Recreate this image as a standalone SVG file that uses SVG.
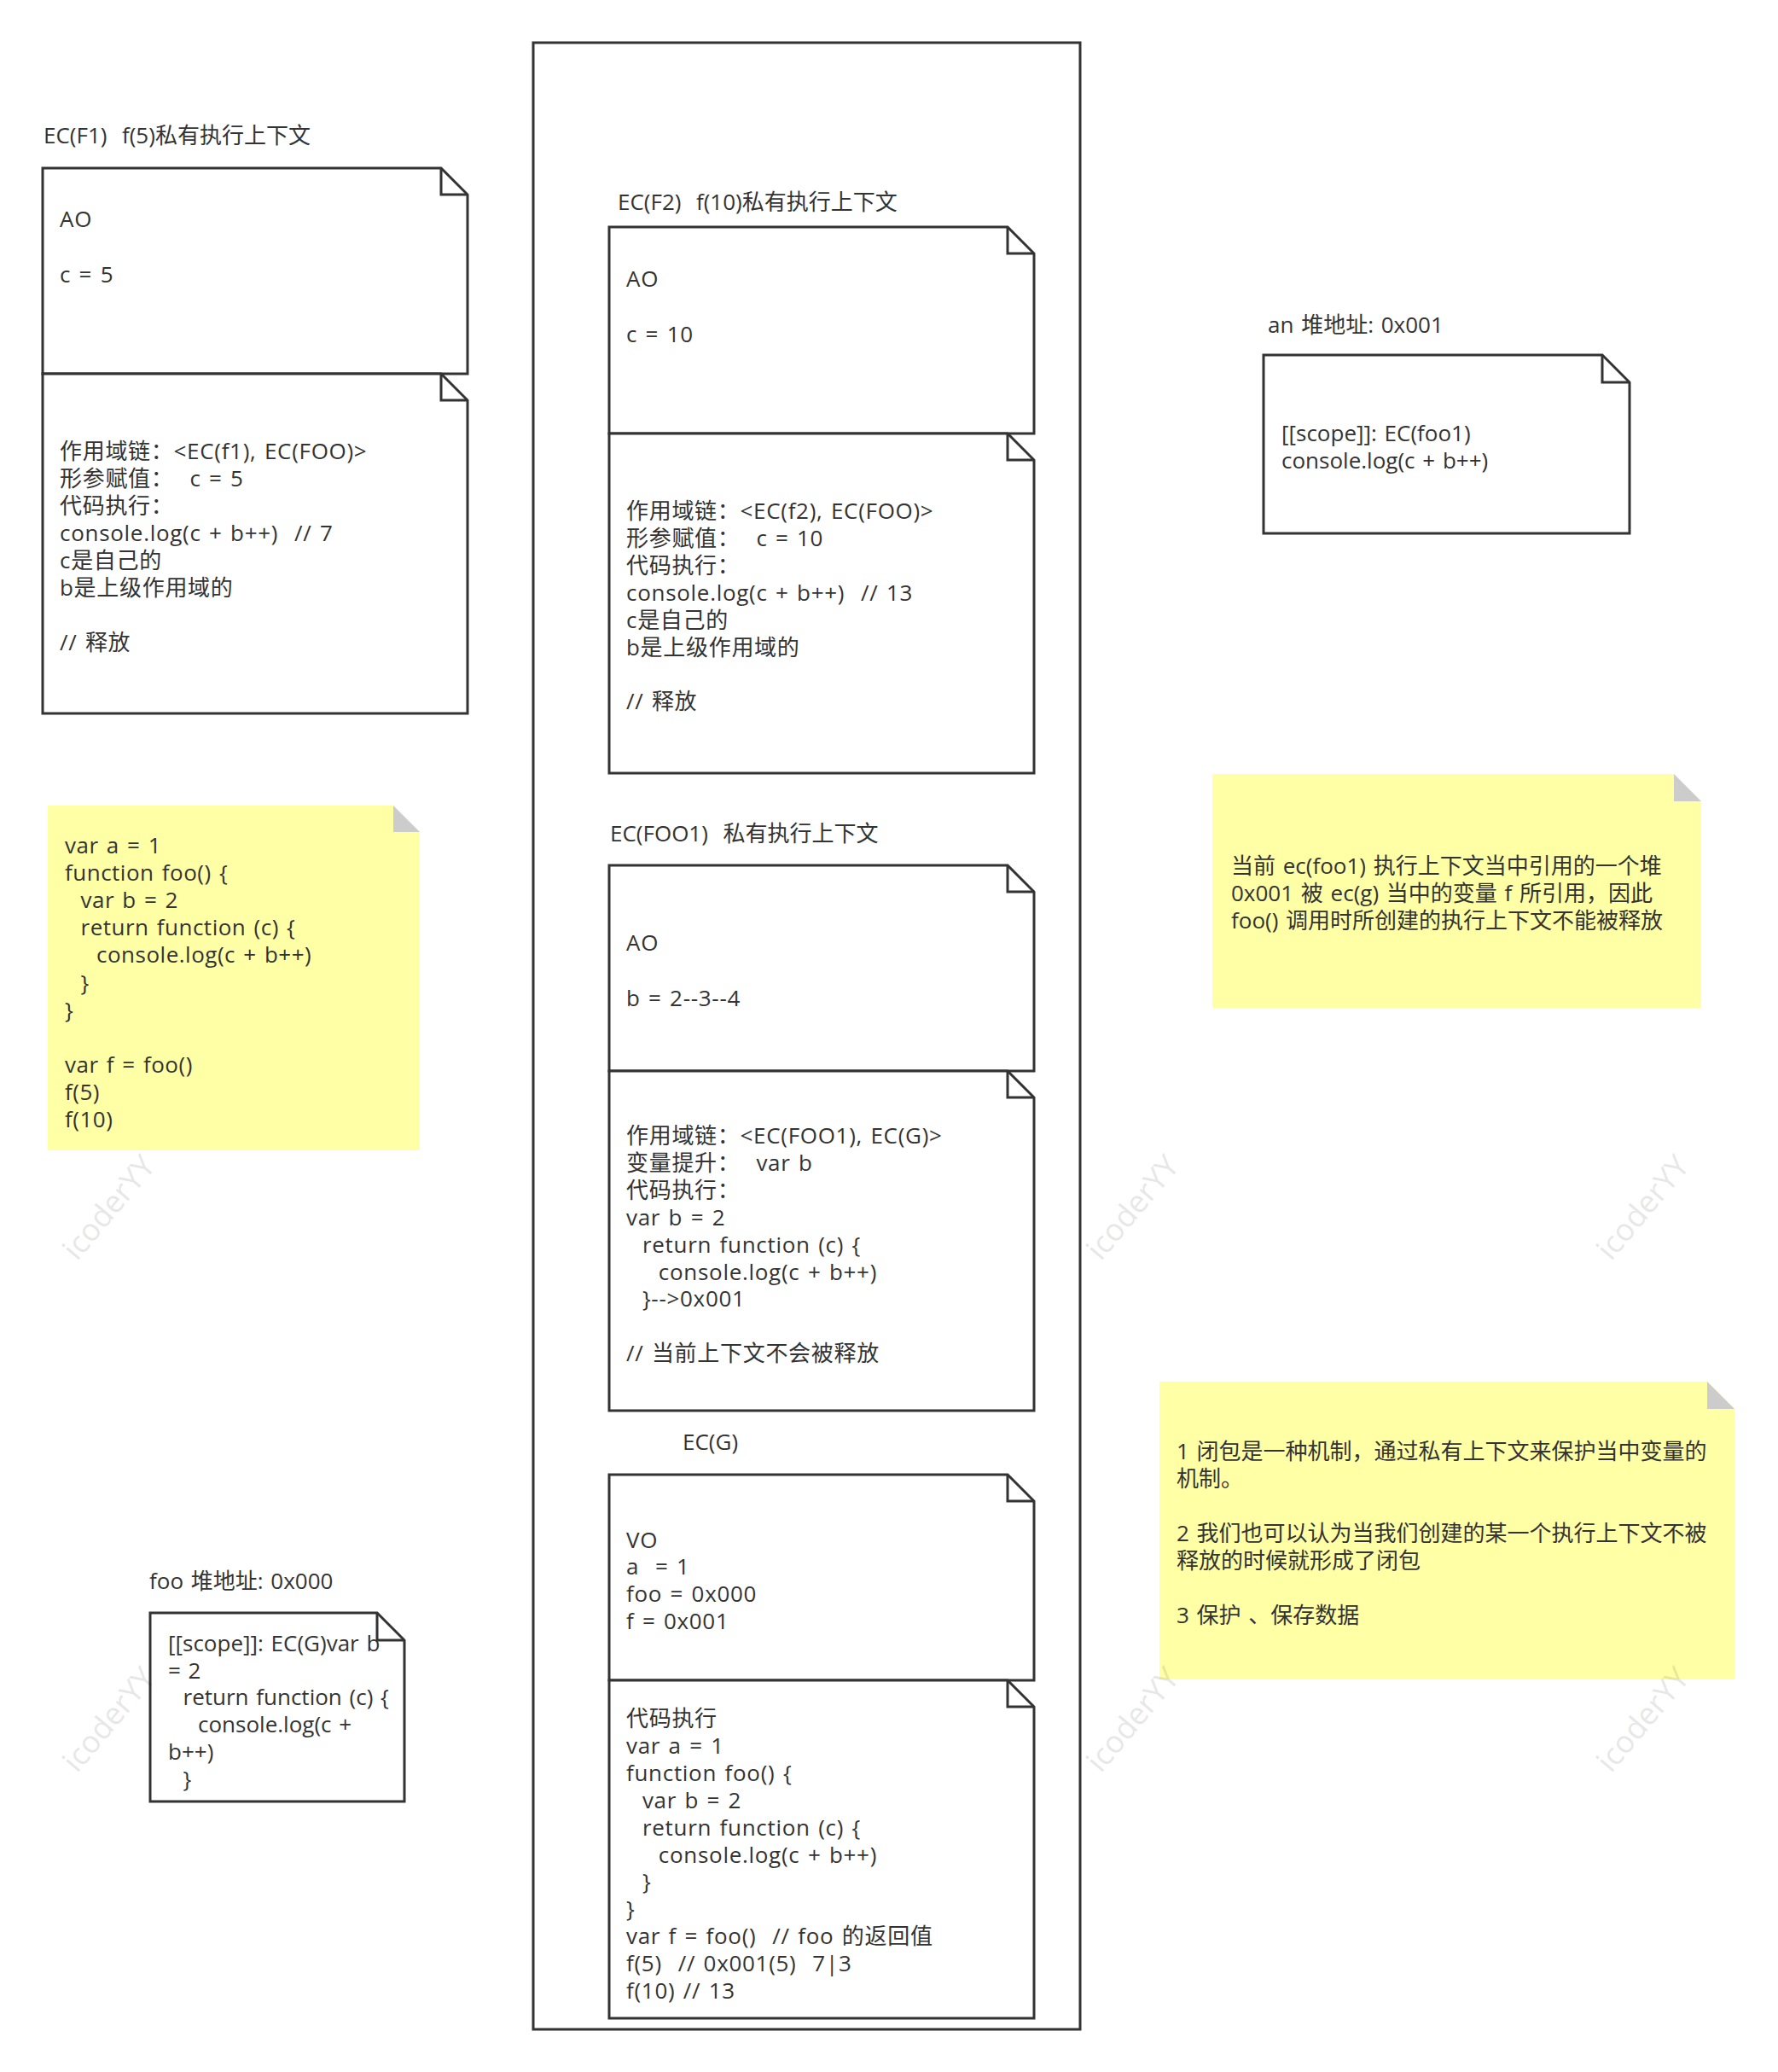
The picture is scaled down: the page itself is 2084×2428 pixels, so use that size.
<svg xmlns="http://www.w3.org/2000/svg" width="2084" height="2428" viewBox="0 0 2084 2428" xml:space="preserve">
<style>
.bx{fill:#fff;stroke:#333;stroke-width:3;stroke-linejoin:miter}
.fd{fill:none;stroke:#333;stroke-width:3}
.t{font-family:"Open Sans","Noto Sans CJK SC",sans-serif;font-size:26px;fill:#333;white-space:pre;word-spacing:2px}
.ls{letter-spacing:0.7px}
.ls2{letter-spacing:0.5px}
.ny{fill:#ffffa6}
.nf{fill:#cccccc}
.wm{font-family:"Open Sans",sans-serif;font-size:36px;fill:#000;opacity:0.09}
</style>
<rect width="2084" height="2428" fill="#fff"/>
<g id="container">
<rect x="625" y="50" width="641" height="2328" fill="none" stroke="#333" stroke-width="3"/>
</g>

<g id="ecf1">
<text class="t" x="51" y="168">EC(F1)  f(5)私有执行上下文</text>
<path class="bx" d="M50 197H517L548 228V438H50Z"/><path class="fd" d="M517 197V228H548"/>
<path class="bx" d="M50 438H517L548 469V836H50Z"/><path class="fd" d="M517 438V469H548"/>
<text class="t ls"><tspan x="70" y="266">AO</tspan><tspan x="70" y="331">c = 5</tspan></text>
<text class="t ls"><tspan x="70" y="538">作用域链：&lt;EC(f1), EC(FOO)&gt;</tspan><tspan x="70" y="570">形参赋值：  c = 5</tspan><tspan x="70" y="602">代码执行：</tspan><tspan x="70" y="634">console.log(c + b++)  // 7</tspan><tspan x="70" y="666">c是自己的</tspan><tspan x="70" y="698">b是上级作用域的</tspan><tspan x="70" y="762">// 释放</tspan></text>
</g>

<g id="ecf2">
<text class="t" x="724" y="246">EC(F2)  f(10)私有执行上下文</text>
<path class="bx" d="M714 266H1181L1212 297V508H714Z"/><path class="fd" d="M1181 266V297H1212"/>
<path class="bx" d="M714 508H1181L1212 539V906H714Z"/><path class="fd" d="M1181 508V539H1212"/>
<text class="t ls"><tspan x="734" y="336">AO</tspan><tspan x="734" y="401">c = 10</tspan></text>
<text class="t ls"><tspan x="734" y="608">作用域链：&lt;EC(f2), EC(FOO)&gt;</tspan><tspan x="734" y="640">形参赋值：  c = 10</tspan><tspan x="734" y="672">代码执行：</tspan><tspan x="734" y="704">console.log(c + b++)  // 13</tspan><tspan x="734" y="736">c是自己的</tspan><tspan x="734" y="768">b是上级作用域的</tspan><tspan x="734" y="831">// 释放</tspan></text>
</g>

<g id="ecfoo1">
<text class="t" x="715" y="986">EC(FOO1)  私有执行上下文</text>
<path class="bx" d="M714 1014H1181L1212 1045V1255H714Z"/><path class="fd" d="M1181 1014V1045H1212"/>
<path class="bx" d="M714 1255H1181L1212 1286V1653H714Z"/><path class="fd" d="M1181 1255V1286H1212"/>
<text class="t ls"><tspan x="734" y="1114">AO</tspan><tspan x="734" y="1179">b = 2--3--4</tspan></text>
<text class="t ls"><tspan x="734" y="1340">作用域链：&lt;EC(FOO1), EC(G)&gt;</tspan><tspan x="734" y="1372">变量提升：  var b</tspan><tspan x="734" y="1404">代码执行：</tspan><tspan x="734" y="1436">var b = 2</tspan><tspan x="734" y="1468">  return function (c) {</tspan><tspan x="734" y="1500">    console.log(c + b++)</tspan><tspan x="734" y="1531">  }--&gt;0x001</tspan><tspan x="734" y="1595">// 当前上下文不会被释放</tspan></text>
</g>

<g id="ecg">
<text class="t" x="800" y="1699">EC(G)</text>
<path class="bx" d="M714 1728H1181L1212 1759V1969H714Z"/><path class="fd" d="M1181 1728V1759H1212"/>
<path class="bx" d="M714 1969H1181L1212 2000V2365H714Z"/><path class="fd" d="M1181 1969V2000H1212"/>
<text class="t ls"><tspan x="734" y="1814">VO</tspan><tspan x="734" y="1845">a  = 1</tspan><tspan x="734" y="1877">foo = 0x000</tspan><tspan x="734" y="1909">f = 0x001</tspan></text>
<text class="t ls"><tspan x="734" y="2023">代码执行</tspan><tspan x="734" y="2055">var a = 1</tspan><tspan x="734" y="2087">function foo() {</tspan><tspan x="734" y="2119">  var b = 2</tspan><tspan x="734" y="2151">  return function (c) {</tspan><tspan x="734" y="2183">    console.log(c + b++)</tspan><tspan x="734" y="2214">  }</tspan><tspan x="734" y="2246">}</tspan><tspan x="734" y="2278">var f = foo()  // foo 的返回值</tspan><tspan x="734" y="2310">f(5)  // 0x001(5)  7|3</tspan><tspan x="734" y="2342">f(10) // 13</tspan></text>
</g>

<g id="heap-an">
<text class="t" x="1486" y="390">an 堆地址: 0x001</text>
<path class="bx" d="M1481 416H1878L1910 448V625H1481Z"/><path class="fd" d="M1878 416V448H1910"/>
<text class="t"><tspan x="1502" y="517">[[scope]]: EC(foo1)</tspan><tspan x="1502" y="549">console.log(c + b++)</tspan></text>
</g>

<g id="heap-foo">
<text class="t" x="175" y="1862">foo 堆地址: 0x000</text>
<path class="bx" d="M176 1890H442L474 1922V2111H176Z"/><path class="fd" d="M442 1890V1922H474"/>
<text class="t"><tspan x="197" y="1935">[[scope]]: EC(G)var b</tspan><tspan x="197" y="1967">= 2</tspan><tspan x="197" y="1998">  return function (c) {</tspan><tspan x="197" y="2030">    console.log(c +</tspan><tspan x="197" y="2062">b++)</tspan><tspan x="197" y="2094">  }</tspan></text>
</g>

<g id="note-code">
<path class="ny" d="M56 944H461L492 975V1348H56Z"/><path class="nf" d="M461 944L492 975H461Z"/>
<text class="t ls2"><tspan x="76" y="1000">var a = 1</tspan><tspan x="76" y="1032">function foo() {</tspan><tspan x="76" y="1064">  var b = 2</tspan><tspan x="76" y="1096">  return function (c) {</tspan><tspan x="76" y="1128">    console.log(c + b++)</tspan><tspan x="76" y="1161">  }</tspan><tspan x="76" y="1193">}</tspan><tspan x="76" y="1257">var f = foo()</tspan><tspan x="76" y="1289">f(5)</tspan><tspan x="76" y="1321">f(10)</tspan></text>
</g>

<g id="note-heap">
<path class="ny" d="M1421 907H1962L1994 939V1181H1421Z"/><path class="nf" d="M1962 907L1994 939H1962Z"/>
<text class="t"><tspan x="1443" y="1024">当前 ec(foo1) 执行上下文当中引用的一个堆</tspan><tspan x="1443" y="1056">0x001 被 ec(g) 当中的变量 f 所引用，因此</tspan><tspan x="1443" y="1088">foo() 调用时所创建的执行上下文不能被释放</tspan></text>
</g>

<g id="note-closure">
<path class="ny" d="M1359 1619H2001L2033 1651V1968H1359Z"/><path class="nf" d="M2001 1619L2033 1651H2001Z"/>
<text class="t"><tspan x="1379" y="1710">1 闭包是一种机制，通过私有上下文来保护当中变量的</tspan><tspan x="1379" y="1742">机制。</tspan><tspan x="1379" y="1806">2 我们也可以认为当我们创建的某一个执行上下文不被</tspan><tspan x="1379" y="1838">释放的时候就形成了闭包</tspan><tspan x="1379" y="1902">3 保护 、保存数据</tspan></text>
</g>

<g id="watermarks">
<text class="wm" text-anchor="middle" transform="translate(137 1423) rotate(-50)">icoderYY</text>
<text class="wm" text-anchor="middle" transform="translate(1337 1423) rotate(-50)">icoderYY</text>
<text class="wm" text-anchor="middle" transform="translate(1935 1423) rotate(-50)">icoderYY</text>
<text class="wm" text-anchor="middle" transform="translate(137 2023) rotate(-50)">icoderYY</text>
<text class="wm" text-anchor="middle" transform="translate(1337 2023) rotate(-50)">icoderYY</text>
<text class="wm" text-anchor="middle" transform="translate(1935 2023) rotate(-50)">icoderYY</text>
</g>
<g id="connectors"></g>
</svg>
